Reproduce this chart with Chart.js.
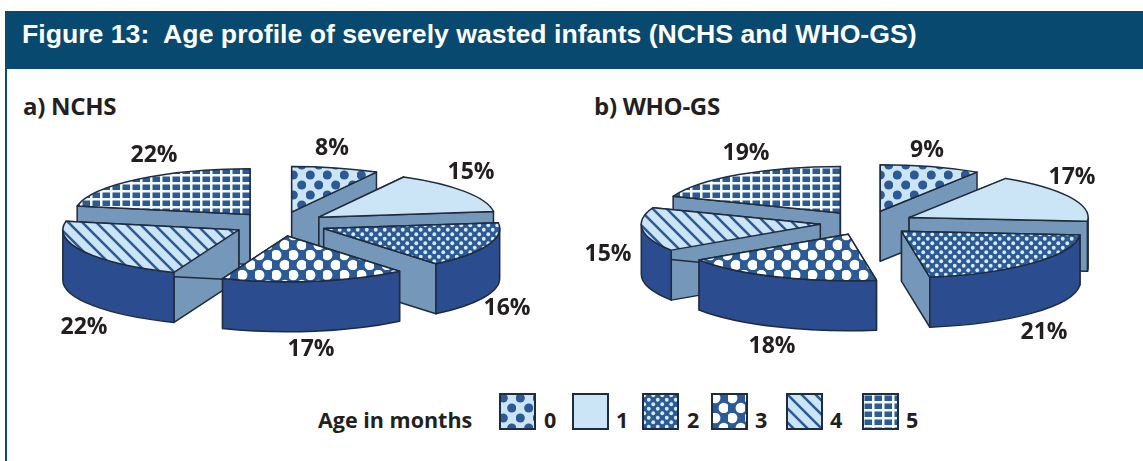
<!DOCTYPE html>
<html>
<head>
<meta charset="utf-8">
<script src="https://cdn.jsdelivr.net/npm/chart.js@4"></script>
<style>
    html, body { margin: 0; padding: 0; background: #fff; }
    #page { position: relative; width: 1143px; height: 461px; overflow: hidden; font-family: "Open Sans", sans-serif; color: #231f20; }
    #bar { position: absolute; left: 5px; top: 11px; right: 0; height: 58px; background: #07496f; }
    #edge { position: absolute; left: 5px; top: 11px; bottom: 0; width: 2px; background: #07496f; }
    #title { position: absolute; left: 22px; top: 19px; color: #fff; font: bold 26.65px "Liberation Sans", sans-serif; white-space: pre; }
    .sub { position: absolute; top: 92px; font-weight: 700; font-size: 24px; line-height: 28px; letter-spacing: -0.3px; }
    canvas { position: absolute; }
    .legendText { position: absolute; font-weight: 700; font-size: 21.5px; line-height: 26px; top: 407px; }
</style>
</head>
<body>
<div id="page">
    <div id="bar"></div>
    <div id="edge"></div>
    <div id="title">Figure 13:  Age profile of severely wasted infants (NCHS and WHO-GS)</div>
    <div class="sub" style="left:23px">a) NCHS</div>
    <div class="sub" style="left:594px">b) WHO-GS</div>
    <canvas id="chartA" width="570" height="310" style="left:0;top:70px"></canvas>
    <canvas id="chartB" width="573" height="310" style="left:570px;top:70px"></canvas>
    <div class="legendText" style="left:318px">Age in months</div>
</div>
<script>
let ages = ["0", "1", "2", "3", "4", "5"];
let nchsValues = [8, 15, 16, 17, 22, 22];
let whoValues = [9, 17, 21, 18, 15, 19];

// label nudges from pie centre, px
let nchsLabelSpots = [[52, -76], [191, -52], [227, 84], [31, 125], [-196, 103], [-126, -69]];
let whoLabelSpots = [[60, -73], [205, -46], [177, 109], [-95, 123], [-259, 31], [-121, -70]];

let swatchLeft = [499, 572, 642, 711, 786, 862];
let swatchTextLeft = [544, 616, 687, 755, 830, 906];

let darkBlue = "#2c5a96";
let paleBlue = "#cbe4f6";
let wallColor = "#7597ba";
let rimColor = "#2b4c8e";
let lineColor = "#1f2c3e";

function tile(w, h, paint) {
    let c = document.createElement("canvas");
    c.width = w;
    c.height = h;
    paint(c.getContext("2d"), w, h);
    return c.getContext("2d").createPattern(c, "repeat");
}

function dots(bg, fg, w, h, r) {
    return tile(w, h, function (t) {
        t.fillStyle = bg;
        t.fillRect(0, 0, w, h);
        t.fillStyle = fg;
        for (let s of [[w / 4, h / 4], [w * 3 / 4, h * 3 / 4]]) {
            t.beginPath();
            t.arc(s[0], s[1], r, 0, Math.PI * 2);
            t.fill();
        }
    });
}

let fills = [
    dots(paleBlue, darkBlue, 17, 20, 4.6),
    paleBlue,
    dots(darkBlue, "#d8ecf8", 9, 9, 1.9),
    dots(darkBlue, "#fff", 17, 20, 5.2),
    tile(14, 14, function (t, w, h) {
        t.fillStyle = paleBlue;
        t.fillRect(0, 0, w, h);
        t.strokeStyle = darkBlue;
        t.lineWidth = 2.5;
        t.beginPath();
        t.moveTo(-2, -2);
        t.lineTo(w + 2, h + 2);
        t.moveTo(w - 2, -2);
        t.lineTo(w + 2, 2);
        t.moveTo(-2, h - 2);
        t.lineTo(2, h + 2);
        t.stroke();
    }),
    tile(10, 8, function (t, w, h) {
        t.fillStyle = darkBlue;
        t.fillRect(0, 0, w, h);
        t.fillStyle = "#f4fafd";
        t.fillRect(0, 0, 2.5, h);
        t.fillRect(0, 0, w, 2.5);
    })
];

// draws the arcs as tilted slabs, using the angles the pie controller worked out
let pie3d = {
    id: "pie3d",
    beforeDatasetDraw(chart, args, opts) {
        let ctx = chart.ctx;
        let k = opts.squash;
        let depth = opts.depth;
        let arcs = chart.getDatasetMeta(0).data.slice();
        let apexY = function (arc) {
            return Math.sin((arc.startAngle + arc.endAngle) / 2) * arc.options.offset;
        };
        arcs.sort(function (p, q) { return apexY(p) - apexY(q); });

        ctx.save();
        ctx.lineWidth = 1.5;
        ctx.lineJoin = "round";
        ctx.strokeStyle = lineColor;
        for (let arc of arcs) {
            let a0 = arc.startAngle;
            let a1 = arc.endAngle;
            let r = arc.outerRadius;
            let mid = (a0 + a1) / 2;
            let ax = arc.x + Math.cos(mid) * arc.options.offset;
            let ay = arc.y + Math.sin(mid) * arc.options.offset * k;

            // cut faces
            ctx.fillStyle = wallColor;
            for (let a of [a0, a1]) {
                let px = ax + Math.cos(a) * r;
                let py = ay + Math.sin(a) * r * k;
                ctx.beginPath();
                ctx.moveTo(ax, ay);
                ctx.lineTo(px, py);
                ctx.lineTo(px, py + depth);
                ctx.lineTo(ax, ay + depth);
                ctx.closePath();
                ctx.fill();
                ctx.stroke();
            }

            // outer rim, front half only
            let f0 = Math.max(a0, 0);
            let f1 = Math.min(a1, Math.PI);
            if (f1 > f0) {
                ctx.fillStyle = rimColor;
                ctx.beginPath();
                ctx.ellipse(ax, ay, r, r * k, 0, f0, f1);
                ctx.ellipse(ax, ay + depth, r, r * k, 0, f1, f0, true);
                ctx.closePath();
                ctx.fill();
                ctx.stroke();
            }

            // top
            ctx.fillStyle = arc.options.backgroundColor;
            ctx.beginPath();
            ctx.moveTo(ax, ay);
            ctx.ellipse(ax, ay, r, r * k, 0, a0, a1);
            ctx.closePath();
            ctx.fill();
            ctx.stroke();
        }
        ctx.restore();
        return false;
    },
    afterDatasetsDraw(chart, args, opts) {
        let ctx = chart.ctx;
        let arcs = chart.getDatasetMeta(0).data;
        let values = chart.data.datasets[0].data;
        ctx.save();
        ctx.font = "700 23px 'Open Sans', sans-serif";
        ctx.fillStyle = "#231f20";
        ctx.textAlign = "center";
        ctx.textBaseline = "middle";
        arcs.forEach(function (arc, i) {
            ctx.fillText(values[i] + "%", arc.x + opts.spots[i][0], arc.y + opts.spots[i][1]);
        });
        ctx.restore();
    }
};

function makePie(id, values, spots, radius, padding) {
    new Chart(id, {
        type: "pie",
        data: {
            labels: ages,
            datasets: [{
                data: values,
                backgroundColor: fills,
                offset: 47
            }]
        },
        options: {
            responsive: false,
            animation: false,
            radius: radius,
            layout: { padding: padding },
            plugins: {
                legend: { display: false },
                tooltip: { enabled: false },
                pie3d: { squash: 0.26, depth: 50, spots: spots }
            }
        },
        plugins: [pie3d]
    });
}

makePie("chartA", nchsValues, nchsLabelSpots, 176, { right: 10, bottom: 2 });
makePie("chartB", whoValues, whoLabelSpots, 179, { left: 21, bottom: 4 });

// legend
let page = document.getElementById("page");
ages.forEach(function (age, i) {
    let c = document.createElement("canvas");
    c.width = 37;
    c.height = 37;
    c.style.left = swatchLeft[i] + "px";
    c.style.top = "393px";
    let t = c.getContext("2d");
    t.fillStyle = fills[i];
    t.fillRect(1, 1, 35, 35);
    t.strokeStyle = lineColor;
    t.lineWidth = 2;
    t.strokeRect(1, 1, 35, 35);
    page.appendChild(c);

    let d = document.createElement("div");
    d.className = "legendText";
    d.style.left = swatchTextLeft[i] + "px";
    d.textContent = age;
    page.appendChild(d);
});
</script>
</body>
</html>
